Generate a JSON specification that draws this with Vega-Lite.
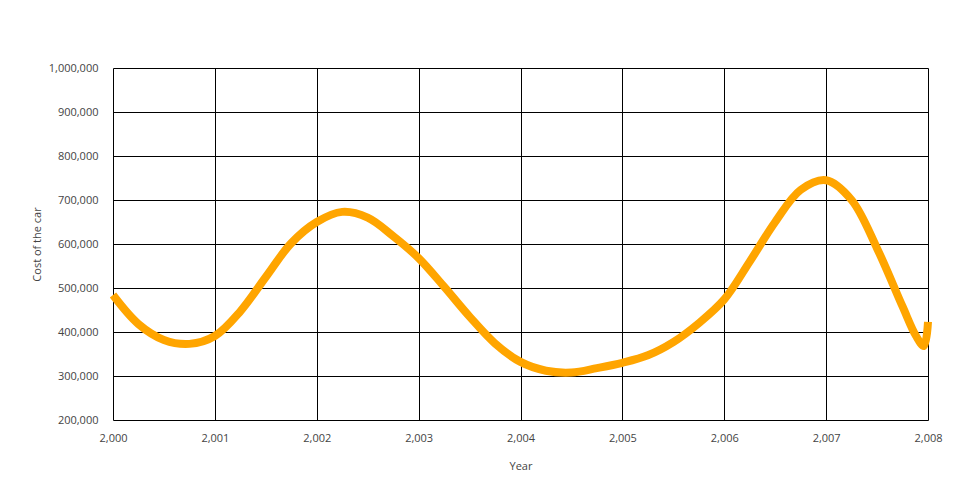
{
  "$schema": "https://vega.github.io/schema/vega-lite/v6.json",
  "width": 815,
  "height": 352,
  "autosize": "none",
  "padding": {"left": 113, "top": 68, "right": 32, "bottom": 80},
  "background": "white",
  "config": {
    "view": {"stroke": null},
    "font": "Open Sans",
    "axis": {
      "labelFont": "Open Sans",
      "titleFont": "Open Sans",
      "labelFontSize": 11,
      "titleFontSize": 11,
      "titleFontWeight": "normal",
      "labelColor": "#444",
      "titleColor": "#444",
      "gridColor": "#000",
      "gridOpacity": 1,
      "gridWidth": 1,
      "ticks": false,
      "domain": false,
      "labelFlush": false,
      "labelOverlap": false
    }
  },
  "data": {
    "values": [
      {"year": 2000.00, "cost": 484000},
      {"year": 2000.25, "cost": 418000},
      {"year": 2000.50, "cost": 382000},
      {"year": 2000.75, "cost": 373000},
      {"year": 2001.00, "cost": 391000},
      {"year": 2001.25, "cost": 447000},
      {"year": 2001.50, "cost": 525000},
      {"year": 2001.75, "cost": 602000},
      {"year": 2002.00, "cost": 650000},
      {"year": 2002.25, "cost": 673000},
      {"year": 2002.50, "cost": 660000},
      {"year": 2002.75, "cost": 618000},
      {"year": 2003.00, "cost": 568000},
      {"year": 2003.25, "cost": 503000},
      {"year": 2003.50, "cost": 435000},
      {"year": 2003.75, "cost": 374000},
      {"year": 2004.00, "cost": 332000},
      {"year": 2004.25, "cost": 312000},
      {"year": 2004.50, "cost": 308000},
      {"year": 2004.75, "cost": 318000},
      {"year": 2005.00, "cost": 330000},
      {"year": 2005.25, "cost": 347000},
      {"year": 2005.50, "cost": 377000},
      {"year": 2005.75, "cost": 420000},
      {"year": 2006.00, "cost": 474000},
      {"year": 2006.25, "cost": 560000},
      {"year": 2006.50, "cost": 650000},
      {"year": 2006.75, "cost": 723000},
      {"year": 2007.00, "cost": 745000},
      {"year": 2007.25, "cost": 700000},
      {"year": 2007.50, "cost": 590000},
      {"year": 2007.75, "cost": 458000},
      {"year": 2007.88, "cost": 392000},
      {"year": 2007.96, "cost": 368000},
      {"year": 2008.00, "cost": 423000}
    ]
  },
  "mark": {
    "type": "line",
    "color": "#FFA500",
    "strokeWidth": 8,
    "strokeCap": "butt",
    "interpolate": "catmull-rom"
  },
  "encoding": {
    "x": {
      "field": "year",
      "type": "quantitative",
      "title": "Year",
      "scale": {"domain": [2000, 2008], "nice": false, "zero": false},
      "axis": {
        "values": [2000, 2001, 2002, 2003, 2004, 2005, 2006, 2007, 2008],
        "format": ",d",
        "labelPadding": 12,
        "titlePadding": 17
      }
    },
    "y": {
      "field": "cost",
      "type": "quantitative",
      "title": "Cost of the car",
      "scale": {"domain": [200000, 1000000], "nice": false, "zero": false},
      "axis": {
        "values": [200000, 300000, 400000, 500000, 600000, 700000, 800000, 900000, 1000000],
        "format": ",d",
        "labelPadding": 15,
        "titlePadding": 6
      }
    }
  }
}
